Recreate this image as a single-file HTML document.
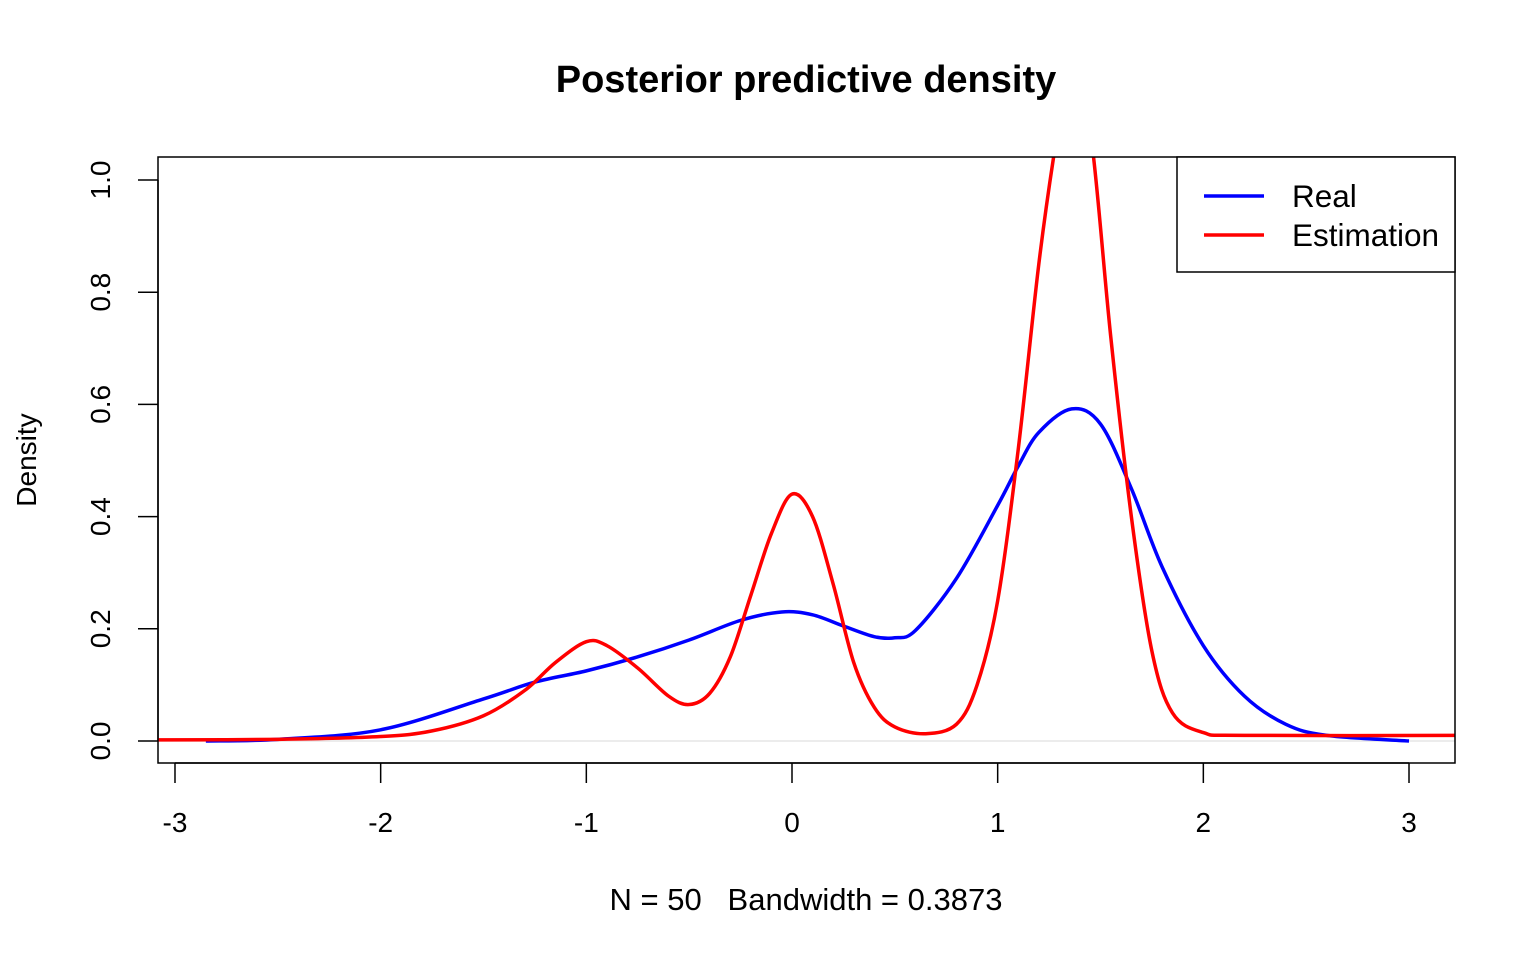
<!DOCTYPE html>
<html><head><meta charset="utf-8"><style>
body{margin:0;background:#fff;}
svg{display:block;font-family:"Liberation Sans",sans-serif;}
</style></head><body>
<svg id="chart" width="1536" height="960" viewBox="0 0 1536 960">
<defs><clipPath id="clip"><rect x="158" y="157" width="1297" height="606"/></clipPath></defs>
<text x="806" y="92" font-size="38" font-weight="bold" text-anchor="middle">Posterior predictive density</text>
<text x="806" y="910" font-size="31" text-anchor="middle" style="white-space:pre">N = 50   Bandwidth = 0.3873</text>
<text x="36" y="460" font-size="28" text-anchor="middle" transform="rotate(-90 36 460)">Density</text>
<g id="axes"></g>
<g id="series" clip-path="url(#clip)"></g>
<rect x="158" y="157" width="1297" height="606" fill="none" stroke="#000" stroke-width="1.5"/>
<g>
<rect x="1177" y="157" width="278" height="115" fill="#fff" stroke="#000" stroke-width="1.5"/>
<line x1="1204" y1="196" x2="1264" y2="196" stroke="#0000ff" stroke-width="3.5"/>
<text x="1292" y="207" font-size="31.5">Real</text>
<line x1="1204" y1="235" x2="1264" y2="235" stroke="#ff0000" stroke-width="3.5"/>
<text x="1292" y="246" font-size="31.5">Estimation</text>
</g>
</svg>
<script>
const realX=[-2.85,-2.5,-2,-1.5,-1.25,-1,-0.75,-0.5,-0.25,-0.05,0.1,0.25,0.4,0.5,0.6,0.8,1.0,1.1,1.2,1.36,1.5,1.65,1.8,2.0,2.2,2.4,2.6,3.0];
const realY=[0,0.003,0.02,0.075,0.105,0.125,0.15,0.18,0.215,0.23,0.225,0.205,0.186,0.184,0.197,0.29,0.42,0.49,0.55,0.592,0.565,0.45,0.31,0.17,0.08,0.03,0.01,0.0];
const estX=[-3.1,-2.5,-2,-1.75,-1.5,-1.3,-1.15,-1.0,-0.9,-0.75,-0.6,-0.5,-0.4,-0.3,-0.2,-0.1,0,0.1,0.2,0.3,0.4,0.5,0.65,0.8,0.9,1.0,1.1,1.2,1.28,1.37,1.46,1.55,1.65,1.75,1.85,2.0,2.2,3.25];
const estY=[0.002,0.003,0.008,0.018,0.045,0.09,0.14,0.177,0.17,0.13,0.08,0.065,0.085,0.15,0.26,0.37,0.44,0.4,0.28,0.14,0.06,0.025,0.013,0.03,0.1,0.25,0.52,0.85,1.06,1.25,1.06,0.72,0.4,0.16,0.05,0.015,0.01,0.01];
const xTicks=[-3,-2,-1,0,1,2,3];
const yTicks=[0,0.2,0.4,0.6,0.8,1.0];
const yTickLabels=["0.0","0.2","0.4","0.6","0.8","1.0"];
const sx=v=>792+v*205.67, sy=v=>741-v*561;
const NS="http://www.w3.org/2000/svg";
const ax=document.getElementById('axes'), se=document.getElementById('series');
function mk(t,a,p){const e=document.createElementNS(NS,t);for(const k in a)e.setAttribute(k,a[k]);p.appendChild(e);return e;}
mk('line',{x1:sx(xTicks[0]),x2:sx(xTicks[xTicks.length-1]),y1:763,y2:763,stroke:'#000','stroke-width':1.5},ax);
xTicks.forEach(t=>{const l=mk('line',{x1:sx(t),x2:sx(t),y1:763,y2:783,stroke:'#000','stroke-width':1.5},ax);

const tx=mk('text',{x:sx(t),y:832,'font-size':28,'text-anchor':'middle'},ax);tx.textContent=t;
});
mk('line',{x1:158,x2:158,y1:sy(0),y2:sy(1),stroke:'#000','stroke-width':1.5},ax);
yTicks.forEach((t,i)=>{mk('line',{x1:138,x2:158,y1:sy(t),y2:sy(t),stroke:'#000','stroke-width':1.5},ax);
const tx=mk('text',{x:110,y:sy(t),'font-size':28,'text-anchor':'middle',transform:`rotate(-90 110 ${sy(t)})`},ax);tx.textContent=yTickLabels[i];
});
mk('line',{x1:158,x2:1455,y1:sy(0),y2:sy(0),stroke:'#e6e6e6','stroke-width':1.5},se);
function path(xs,ys){const p=xs.map((x,i)=>[sx(x),sy(ys[i])]);let d=`M${p[0][0]},${p[0][1]}`;
for(let i=0;i<p.length-1;i++){const p0=p[Math.max(i-1,0)],p1=p[i],p2=p[i+1],p3=p[Math.min(i+2,p.length-1)];
d+=` C${p1[0]+(p2[0]-p0[0])/6},${p1[1]+(p2[1]-p0[1])/6} ${p2[0]-(p3[0]-p1[0])/6},${p2[1]-(p3[1]-p1[1])/6} ${p2[0]},${p2[1]}`;}return d;}
const r=mk('path',{d:path(realX,realY),fill:'none',stroke:'#0000ff','stroke-width':3.5},se);

const e=mk('path',{d:path(estX,estY),fill:'none',stroke:'#ff0000','stroke-width':3.5},se);

</script>
</body></html>
